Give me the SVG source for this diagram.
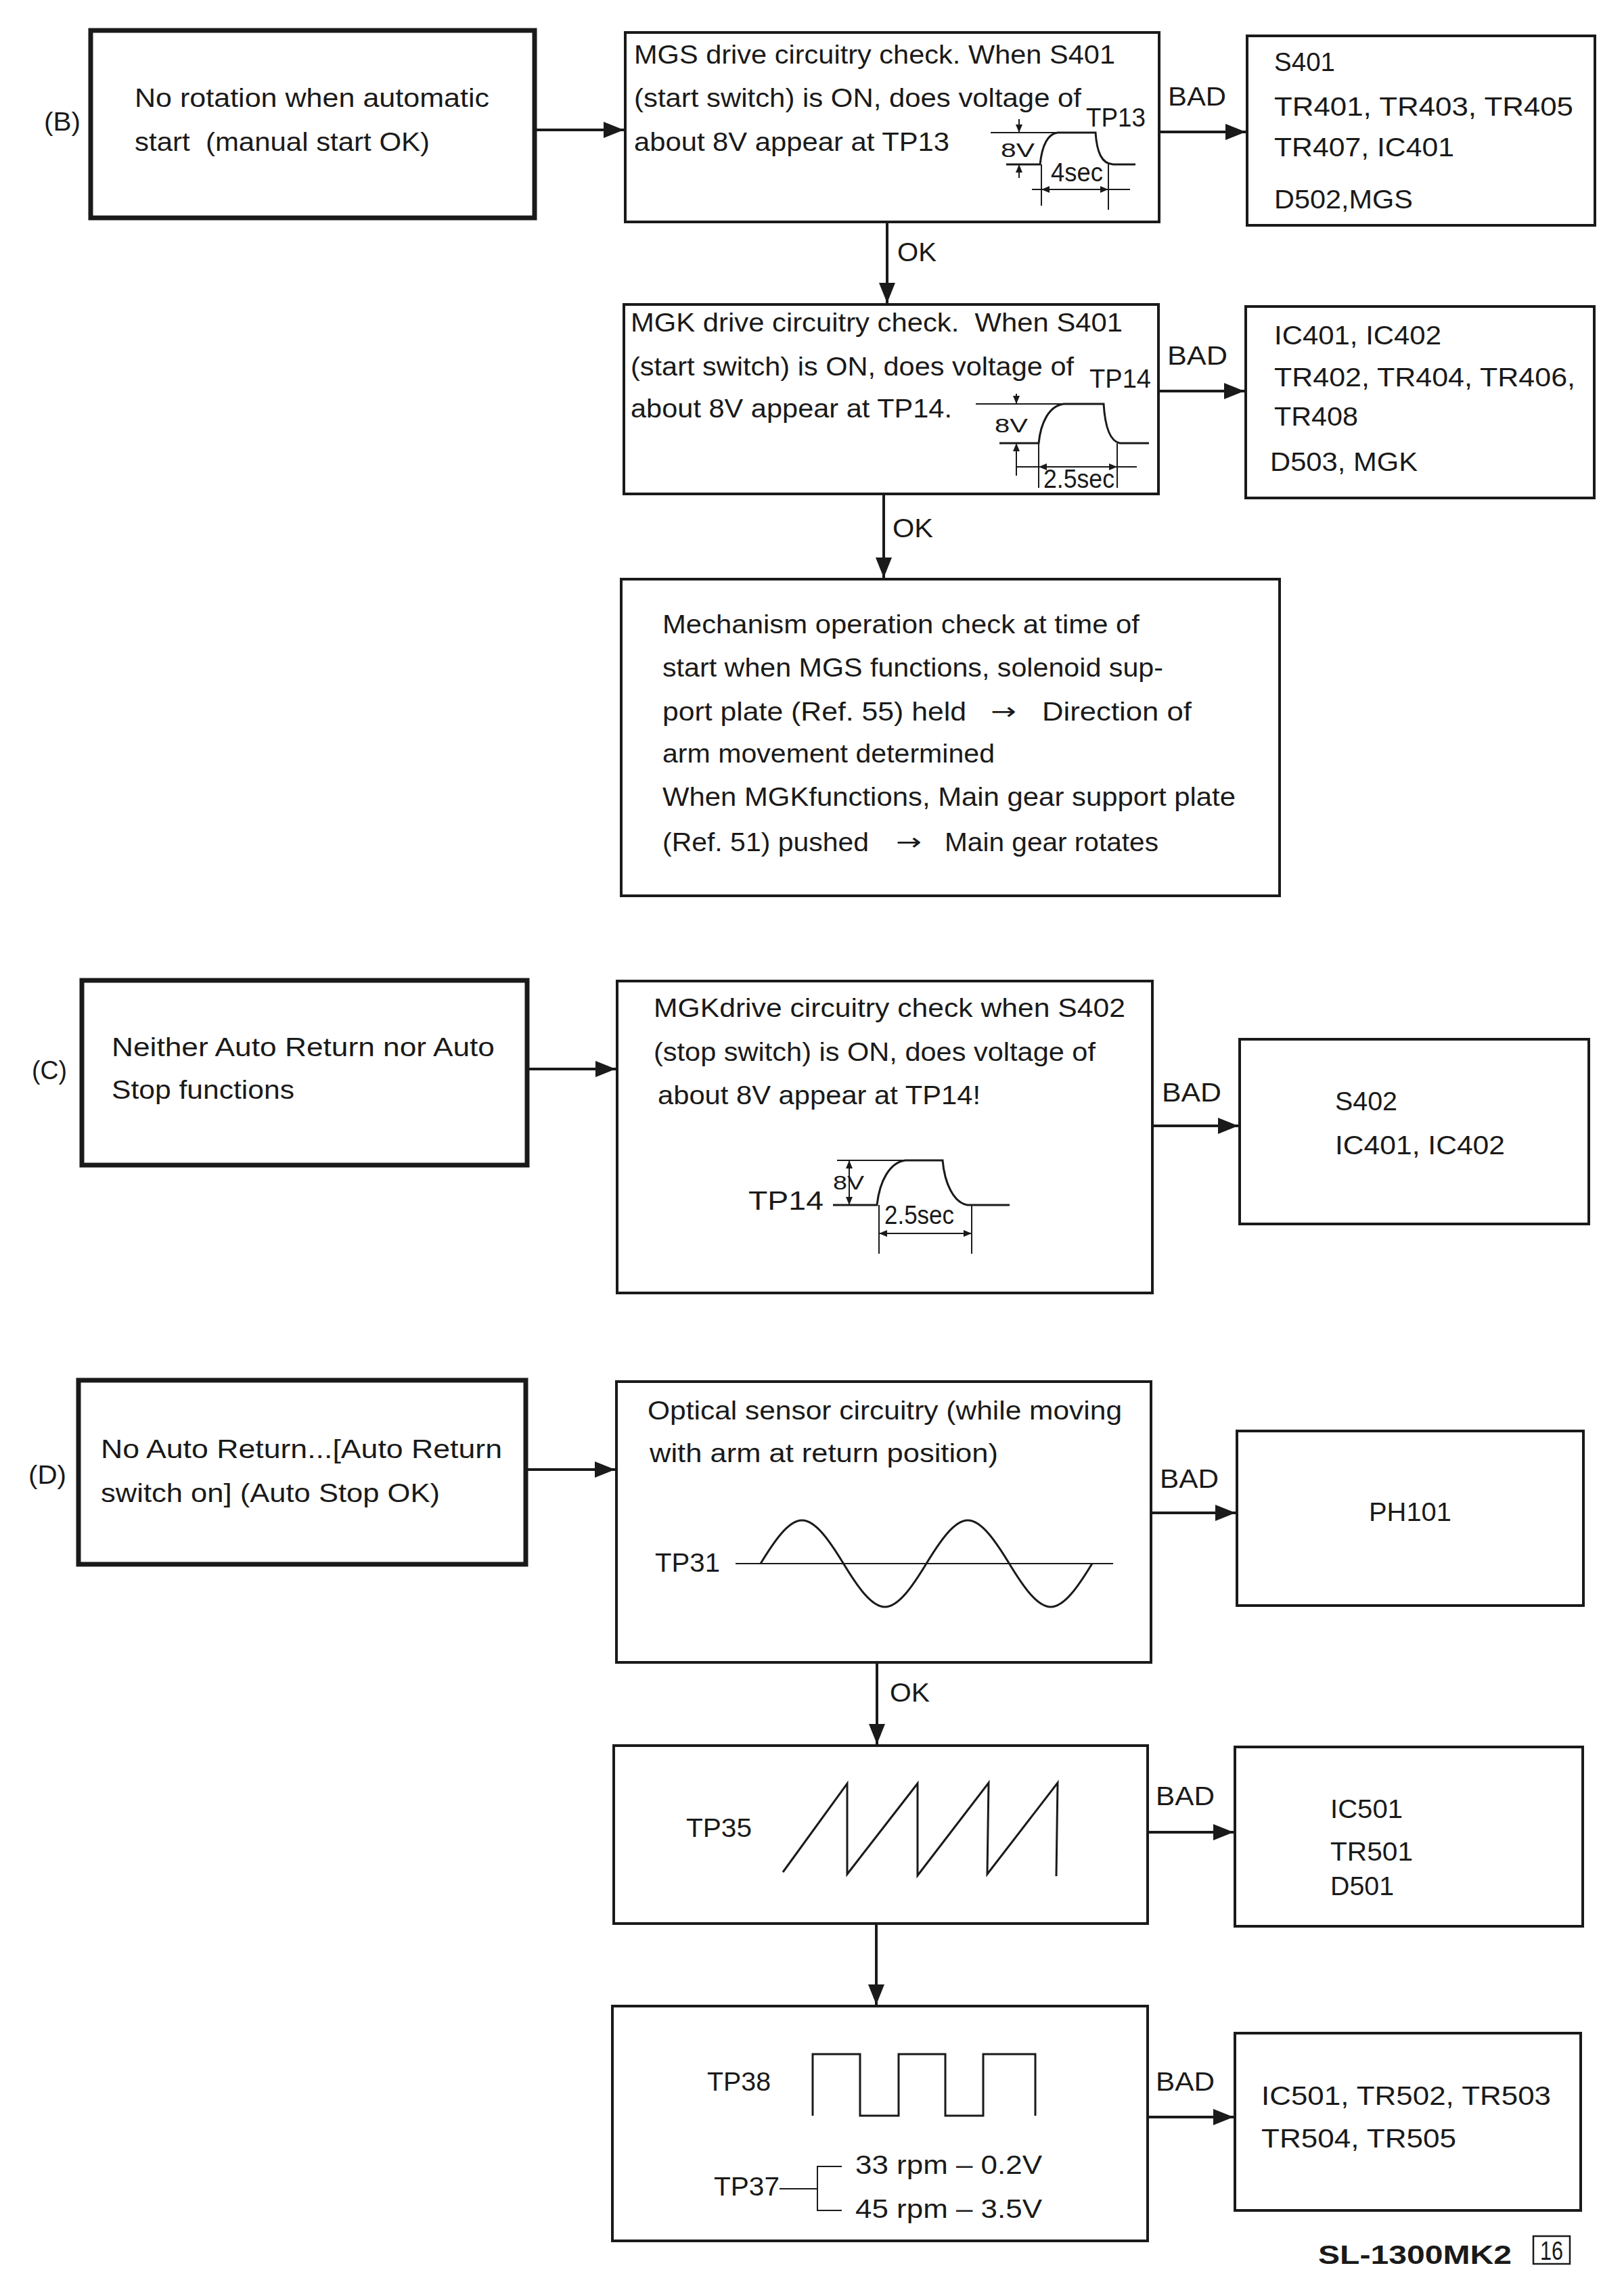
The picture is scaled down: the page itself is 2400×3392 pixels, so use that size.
<svg xmlns="http://www.w3.org/2000/svg" width="2400" height="3392" viewBox="0 0 2400 3392">
<style>
.t{font-family:"Liberation Sans",Arial,Helvetica,sans-serif;font-size:38px;fill:#1a1a1a}
.ar{font-family:"DejaVu Sans","Liberation Sans",sans-serif;font-size:34px;fill:#1a1a1a}
.s{font-size:30px}
.box{fill:#fff;stroke:#1a1a1a;stroke-width:4}
.thick{stroke-width:7}
.c{stroke:#1a1a1a;stroke-width:4;fill:none;marker-end:url(#ah)}
.w{fill:none;stroke:#1a1a1a;stroke-width:3}
.d{fill:none;stroke:#1a1a1a;stroke-width:2}
.h{fill:#1a1a1a}
</style>
<defs>
<marker id="ah" markerWidth="30" markerHeight="24" refX="30" refY="12" orient="auto" markerUnits="userSpaceOnUse"><path d="M0,0 L30,12 L0,24 z" fill="#1a1a1a"/></marker>
</defs>
<rect width="2400" height="3392" fill="#fff"/>

<g id="connectors">
<path class="c" d="M790,192 H922"/>
<path class="c" d="M1713,195 H1841"/>
<path class="c" d="M1311,328 V448"/>
<path class="c" d="M1712,578 H1839"/>
<path class="c" d="M1306,730 V854"/>
<path class="c" d="M779,1580 H910"/>
<path class="c" d="M1703,1664 H1830"/>
<path class="c" d="M777,2172 H909"/>
<path class="c" d="M1701,2236 H1826"/>
<path class="c" d="M1296,2457 V2578"/>
<path class="c" d="M1696,2708 H1823"/>
<path class="c" d="M1295,2843 V2963"/>
<path class="c" d="M1696,3129 H1823"/>
<text class="t" x="1726" y="156" textLength="86" lengthAdjust="spacingAndGlyphs">BAD</text>
<text class="t" x="1326" y="386" textLength="58" lengthAdjust="spacingAndGlyphs">OK</text>
<text class="t" x="1725" y="539" textLength="89" lengthAdjust="spacingAndGlyphs">BAD</text>
<text class="t" x="1319" y="794" textLength="60" lengthAdjust="spacingAndGlyphs">OK</text>
<text class="t" x="1717" y="1628" textLength="88" lengthAdjust="spacingAndGlyphs">BAD</text>
<text class="t" x="1714" y="2199" textLength="87" lengthAdjust="spacingAndGlyphs">BAD</text>
<text class="t" x="1315" y="2515" textLength="59" lengthAdjust="spacingAndGlyphs">OK</text>
<text class="t" x="1708" y="2668" textLength="87" lengthAdjust="spacingAndGlyphs">BAD</text>
<text class="t" x="1708" y="3090" textLength="87" lengthAdjust="spacingAndGlyphs">BAD</text>
</g>

<g id="labels">
<text class="t" x="65" y="193" textLength="54" lengthAdjust="spacingAndGlyphs">(B)</text>
<text class="t" x="47" y="1595" textLength="52" lengthAdjust="spacingAndGlyphs">(C)</text>
<text class="t" x="42" y="2193" textLength="56" lengthAdjust="spacingAndGlyphs">(D)</text>
</g>

<g id="B1">
<rect class="box thick" x="134" y="45" width="656" height="277"/>
<text class="t" x="199" y="158" textLength="524" lengthAdjust="spacingAndGlyphs">No rotation when automatic</text>
<text class="t" x="199" y="223" textLength="436" lengthAdjust="spacingAndGlyphs" xml:space="preserve">start  (manual start OK)</text>
</g>

<g id="B2">
<rect class="box" x="924" y="48" width="789" height="280"/>
<text class="t" x="937" y="94" textLength="711" lengthAdjust="spacingAndGlyphs">MGS drive circuitry check. When S401</text>
<text class="t" x="937" y="158" textLength="661" lengthAdjust="spacingAndGlyphs">(start switch) is ON, does voltage of</text>
<text class="t" x="937" y="223" textLength="466" lengthAdjust="spacingAndGlyphs">about 8V appear at TP13</text>
<text class="t" x="1605" y="187" font-size="32" textLength="88" lengthAdjust="spacingAndGlyphs">TP13</text>
<path class="d" d="M1464,196 H1563"/>
<path class="w" d="M1487,243 H1537 C1540,215 1548,198 1563,196 H1619 C1621,225 1628,242 1645,243 H1678"/>
<path class="d" d="M1506,176 V196 M1506,243 V263 M1539,243 V304 M1638,243 V310 M1525,280 H1670"/>
<polygon class="h" points="1506,196 1501,184 1511,184"/>
<polygon class="h" points="1506,243 1501,255 1511,255"/>
<polygon class="h" points="1539,280 1551,275 1551,285"/>
<polygon class="h" points="1638,280 1626,275 1626,285"/>
<text class="t s" x="1479" y="232" textLength="50" lengthAdjust="spacingAndGlyphs">8V</text>
<text class="t" x="1553" y="268" font-size="28" textLength="77" lengthAdjust="spacingAndGlyphs">4sec</text>
</g>

<g id="B3">
<rect class="box" x="1843" y="53" width="514" height="280"/>
<text class="t" x="1883" y="105" textLength="90" lengthAdjust="spacingAndGlyphs">S401</text>
<text class="t" x="1883" y="171" textLength="442" lengthAdjust="spacingAndGlyphs">TR401, TR403, TR405</text>
<text class="t" x="1883" y="231" textLength="266" lengthAdjust="spacingAndGlyphs">TR407, IC401</text>
<text class="t" x="1883" y="308" textLength="205" lengthAdjust="spacingAndGlyphs">D502,MGS</text>
</g>

<g id="B4">
<rect class="box" x="922" y="450" width="790" height="280"/>
<text class="t" x="932" y="490" textLength="727" lengthAdjust="spacingAndGlyphs" xml:space="preserve">MGK drive circuitry check.  When S401</text>
<text class="t" x="932" y="555" textLength="655" lengthAdjust="spacingAndGlyphs">(start switch) is ON, does voltage of</text>
<text class="t" x="932" y="617" textLength="475" lengthAdjust="spacingAndGlyphs">about 8V appear at TP14.</text>
<text class="t" x="1610" y="573" font-size="34" textLength="91" lengthAdjust="spacingAndGlyphs">TP14</text>
<path class="d" d="M1442,597 H1572"/>
<path class="w" d="M1477,655 H1535 C1538,625 1550,600 1572,597 H1631 C1633,630 1640,652 1655,655 H1698"/>
<path class="d" d="M1502,582 V597 M1502,655 V703 M1535,655 V721 M1651,655 V721 M1502,690 H1680"/>
<polygon class="h" points="1502,597 1497,585 1507,585"/>
<polygon class="h" points="1502,655 1497,667 1507,667"/>
<polygon class="h" points="1535,690 1547,685 1547,695"/>
<polygon class="h" points="1651,690 1639,685 1639,695"/>
<text class="t s" x="1470" y="639" textLength="49" lengthAdjust="spacingAndGlyphs">8V</text>
<text class="t" x="1542" y="721" font-size="28" textLength="105" lengthAdjust="spacingAndGlyphs">2.5sec</text>
</g>

<g id="B5">
<rect class="box" x="1841" y="453" width="515" height="283"/>
<text class="t" x="1883" y="509" textLength="247" lengthAdjust="spacingAndGlyphs">IC401, IC402</text>
<text class="t" x="1883" y="571" textLength="445" lengthAdjust="spacingAndGlyphs">TR402, TR404, TR406,</text>
<text class="t" x="1883" y="629" textLength="124" lengthAdjust="spacingAndGlyphs">TR408</text>
<text class="t" x="1877" y="696" textLength="218" lengthAdjust="spacingAndGlyphs">D503, MGK</text>
</g>

<g id="B6">
<rect class="box" x="918" y="856" width="973" height="468"/>
<text class="t" x="979" y="936" textLength="705" lengthAdjust="spacingAndGlyphs">Mechanism operation check at time of</text>
<text class="t" x="979" y="1000" textLength="740" lengthAdjust="spacingAndGlyphs">start when MGS functions, solenoid sup-</text>
<text class="t" x="979" y="1065" textLength="449" lengthAdjust="spacingAndGlyphs">port plate (Ref. 55) held</text>
<text class="ar" x="1464" y="1063" textLength="38" lengthAdjust="spacingAndGlyphs">→</text>
<text class="t" x="1540" y="1065" textLength="221" lengthAdjust="spacingAndGlyphs">Direction of</text>
<text class="t" x="979" y="1127" textLength="491" lengthAdjust="spacingAndGlyphs">arm movement determined</text>
<text class="t" x="979" y="1191" textLength="847" lengthAdjust="spacingAndGlyphs">When MGKfunctions, Main gear support plate</text>
<text class="t" x="979" y="1258" textLength="305" lengthAdjust="spacingAndGlyphs">(Ref. 51) pushed</text>
<text class="ar" x="1324" y="1256" textLength="38" lengthAdjust="spacingAndGlyphs">→</text>
<text class="t" x="1396" y="1258" textLength="316" lengthAdjust="spacingAndGlyphs">Main gear rotates</text>
</g>

<g id="C1">
<rect class="box thick" x="121" y="1449" width="658" height="273"/>
<text class="t" x="165" y="1561" textLength="566" lengthAdjust="spacingAndGlyphs">Neither Auto Return nor Auto</text>
<text class="t" x="165" y="1624" textLength="270" lengthAdjust="spacingAndGlyphs">Stop functions</text>
</g>

<g id="C2">
<rect class="box" x="912" y="1450" width="791" height="461"/>
<text class="t" x="966" y="1503" textLength="697" lengthAdjust="spacingAndGlyphs">MGKdrive circuitry check when S402</text>
<text class="t" x="966" y="1568" textLength="653" lengthAdjust="spacingAndGlyphs">(stop switch) is ON, does voltage of</text>
<text class="t" x="972" y="1632" textLength="477" lengthAdjust="spacingAndGlyphs">about 8V appear at TP14!</text>
<text class="t" x="1106" y="1788" font-size="36" textLength="111" lengthAdjust="spacingAndGlyphs">TP14</text>
<path class="d" d="M1237,1715 H1338"/>
<path class="w" d="M1231,1781 H1296 C1300,1745 1315,1718 1338,1715 H1393 C1396,1750 1410,1778 1430,1781 H1492"/>
<path class="d" d="M1255,1715 V1781 M1299,1781 V1853 M1436,1781 V1853 M1299,1823 H1436"/>
<polygon class="h" points="1255,1715 1250,1727 1260,1727"/>
<polygon class="h" points="1255,1781 1250,1769 1260,1769"/>
<polygon class="h" points="1299,1823 1311,1818 1311,1828"/>
<polygon class="h" points="1436,1823 1424,1818 1424,1828"/>
<text class="t s" x="1231" y="1758" textLength="46" lengthAdjust="spacingAndGlyphs">8V</text>
<text class="t" x="1307" y="1809" font-size="28" textLength="103" lengthAdjust="spacingAndGlyphs">2.5sec</text>
</g>

<g id="C3">
<rect class="box" x="1832" y="1536" width="516" height="273"/>
<text class="t" x="1973" y="1641" textLength="92" lengthAdjust="spacingAndGlyphs">S402</text>
<text class="t" x="1973" y="1706" textLength="251" lengthAdjust="spacingAndGlyphs">IC401, IC402</text>
</g>

<g id="D1">
<rect class="box thick" x="116" y="2040" width="661" height="272"/>
<text class="t" x="149" y="2155" textLength="593" lengthAdjust="spacingAndGlyphs">No Auto Return...[Auto Return</text>
<text class="t" x="149" y="2220" textLength="501" lengthAdjust="spacingAndGlyphs">switch on] (Auto Stop OK)</text>
</g>

<g id="D2">
<rect class="box" x="911" y="2042" width="790" height="415"/>
<text class="t" x="957" y="2098" textLength="701" lengthAdjust="spacingAndGlyphs">Optical sensor circuitry (while moving</text>
<text class="t" x="960" y="2161" textLength="515" lengthAdjust="spacingAndGlyphs">with arm at return position)</text>
<text class="t" x="968" y="2323" textLength="96" lengthAdjust="spacingAndGlyphs">TP31</text>
<path class="d" d="M1087,2311 H1645"/>
<path class="w" stroke-width="4" d="M1124,2311 C1144,2278.2 1164.9,2247 1185.25,2247 C1205.6,2247 1226.5,2278.2 1246.5,2311 C1266.5,2343.8 1287.4,2375 1307.75,2375 C1328.1,2375 1349,2343.8 1369,2311 C1389,2278.2 1409.9,2247 1430.25,2247 C1450.6,2247 1471.5,2278.2 1491.5,2311 C1511.5,2343.8 1532.4,2375 1552.75,2375 C1573.1,2375 1594,2343.8 1614,2311"/>
</g>

<g id="D3">
<rect class="box" x="1828" y="2115" width="512" height="258"/>
<text class="t" x="2023" y="2248" textLength="122" lengthAdjust="spacingAndGlyphs">PH101</text>
</g>

<g id="D4">
<rect class="box" x="907" y="2580" width="789" height="263"/>
<text class="t" x="1014" y="2715" textLength="97" lengthAdjust="spacingAndGlyphs">TP35</text>
<polyline class="w" points="1157,2767 1252,2636 1252,2770 1356,2636 1356,2772 1461,2635 1459,2770 1563,2635 1561,2773"/>
</g>

<g id="D5">
<rect class="box" x="1825" y="2582" width="514" height="265"/>
<text class="t" x="1966" y="2687" textLength="107" lengthAdjust="spacingAndGlyphs">IC501</text>
<text class="t" x="1966" y="2750" textLength="122" lengthAdjust="spacingAndGlyphs">TR501</text>
<text class="t" x="1966" y="2801" textLength="94" lengthAdjust="spacingAndGlyphs">D501</text>
</g>

<g id="D6">
<rect class="box" x="905" y="2965" width="791" height="347"/>
<text class="t" x="1045" y="3090" textLength="94" lengthAdjust="spacingAndGlyphs">TP38</text>
<polyline class="w" points="1201,3127 1201,3036 1271,3036 1271,3127 1328,3127 1328,3036 1397,3036 1397,3127 1453,3127 1453,3036 1530,3036 1530,3127"/>
<text class="t" x="1055" y="3245" textLength="97" lengthAdjust="spacingAndGlyphs">TP37</text>
<path class="d" d="M1152,3235 H1208 M1244,3202 H1208 V3267 H1244"/>
<text class="t" x="1264" y="3213" textLength="276" lengthAdjust="spacingAndGlyphs">33 rpm – 0.2V</text>
<text class="t" x="1264" y="3278" textLength="276" lengthAdjust="spacingAndGlyphs">45 rpm – 3.5V</text>
</g>

<g id="D7">
<rect class="box" x="1825" y="3005" width="511" height="262"/>
<text class="t" x="1864" y="3111" textLength="428" lengthAdjust="spacingAndGlyphs">IC501, TR502, TR503</text>
<text class="t" x="1864" y="3174" textLength="288" lengthAdjust="spacingAndGlyphs">TR504, TR505</text>
</g>

<g id="footer">
<text class="t" x="1948" y="3346" font-size="44" font-weight="bold" textLength="286" lengthAdjust="spacingAndGlyphs">SL-1300MK2</text>
<rect x="2266" y="3305" width="54" height="41" fill="none" stroke="#1a1a1a" stroke-width="2.5"/>
<text class="t" x="2276" y="3340" font-size="36" textLength="34" lengthAdjust="spacingAndGlyphs">16</text>
</g>
</svg>
